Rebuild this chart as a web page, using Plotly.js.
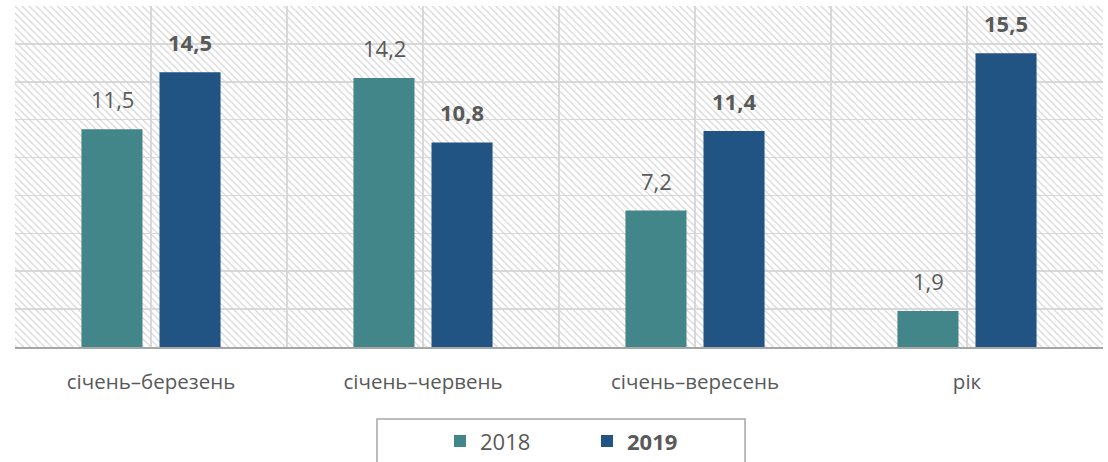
<!DOCTYPE html>
<html>
<head>
<meta charset="utf-8">
<script src="https://cdn.plot.ly/plotly-3.0.1.min.js"></script>
<style>
  html, body { margin: 0; padding: 0; background: #fff; }
  #chart { width: 1108px; height: 462px; }
</style>
</head>
<body>
<div id="chart"></div>
<script>
// periods and values (%)
const periods = ['січень–березень', 'січень–червень', 'січень–вересень', 'рік'];
const values2018 = [11.5, 14.2, 7.2, 1.9];
const values2019 = [14.5, 10.8, 11.4, 15.5];
const seriesNames = ['2018', '2019'];

const yMax = 18;
const textColor = '#595959';
const gridColor = '#d9d9d9';
const colors = ['#43868a', '#215482'];
const fontFamily = '"Open Sans", "Noto Sans", sans-serif';

// hatched background, one bar spanning the whole plot area
const hatch = {
  type: 'bar',
  x: [(periods.length - 1) / 2],
  y: [yMax],
  width: [periods.length],
  xaxis: 'x',
  yaxis: 'y',
  marker: {
    color: 'rgba(0,0,0,0)',
    line: { width: 0 },
    pattern: { shape: '\\', size: 5, solidity: 0.22, fgcolor: '#d3d3d3', bgcolor: 'rgba(0,0,0,0)' }
  },
  hoverinfo: 'skip',
  showlegend: false
};

const bars2018 = {
  type: 'bar',
  name: seriesNames[0],
  x: periods,
  y: values2018,
  xaxis: 'x2',
  yaxis: 'y',
  marker: { color: colors[0], line: { width: 0 } },
  hoverinfo: 'skip'
};

const bars2019 = {
  type: 'bar',
  name: '<b>' + seriesNames[1] + '</b>',
  x: periods,
  y: values2019,
  xaxis: 'x2',
  yaxis: 'y',
  marker: { color: colors[1], line: { width: 0 } },
  hoverinfo: 'skip'
};

// value labels above the bars
const fmt = v => v.toFixed(1).replace('.', ',');
const labelShift = 39;
const annotations = [];
periods.forEach((p, i) => {
  annotations.push({
    x: p, y: values2018[i], xref: 'x2', yref: 'y',
    text: fmt(values2018[i]),
    xshift: -labelShift, yshift: 13, yanchor: 'bottom',
    showarrow: false,
    font: { family: fontFamily, size: 22, color: textColor }
  });
  annotations.push({
    x: p, y: values2019[i], xref: 'x2', yref: 'y',
    text: '<b>' + fmt(values2019[i]) + '</b>',
    xshift: labelShift, yshift: 13, yanchor: 'bottom',
    showarrow: false,
    font: { family: fontFamily, size: 22, color: textColor }
  });
});

const layout = {
  width: 1108,
  height: 462,
  margin: { l: 15, r: 5, t: 6, b: 115, autoexpand: false },
  paper_bgcolor: '#ffffff',
  plot_bgcolor: '#ffffff',
  font: { family: fontFamily, color: textColor },
  separators: ', ',
  barmode: 'group',
  bargap: 0.426,
  bargroupgap: 0.218,
  hovermode: false,
  xaxis: {
    type: 'linear',
    range: [-0.5, periods.length - 0.5],
    tick0: -0.5,
    dtick: 0.5,
    showgrid: true,
    gridcolor: gridColor,
    gridwidth: 1.5,
    zeroline: false,
    showticklabels: false,
    ticks: '',
    fixedrange: true
  },
  xaxis2: {
    type: 'category',
    overlaying: 'x',
    anchor: 'y',
    range: [-0.5, periods.length - 0.5],
    showgrid: false,
    showline: true,
    linecolor: '#a6a6a6',
    linewidth: 2,
    ticks: '',
    ticklabelstandoff: 15,
    tickfont: { family: fontFamily, size: 20.5, color: textColor },
    fixedrange: true
  },
  yaxis: {
    range: [0, yMax],
    dtick: 2,
    showgrid: true,
    gridcolor: gridColor,
    gridwidth: 1.5,
    zeroline: false,
    showticklabels: false,
    ticks: '',
    fixedrange: true
  },
  showlegend: true,
  legend: {
    orientation: 'h',
    x: 0.3906,
    xanchor: 'left',
    y: -0.215,
    yanchor: 'top',
    entrywidth: 102,
    entrywidthmode: 'pixels',
    font: { family: fontFamily, size: 22, color: textColor },
    bgcolor: 'rgba(0,0,0,0)',
    borderwidth: 0
  },
  shapes: [{
    type: 'rect',
    xref: 'paper', yref: 'paper',
    x0: 0.3327, x1: 0.6710,
    y0: -0.2111, y1: -0.37,
    line: { color: '#a6a6a6', width: 1.5 },
    fillcolor: 'rgba(0,0,0,0)'
  }],
  annotations: annotations
};

Plotly.newPlot('chart', [hatch, bars2018, bars2019], layout, { displayModeBar: false, staticPlot: true });
</script>
</body>
</html>
